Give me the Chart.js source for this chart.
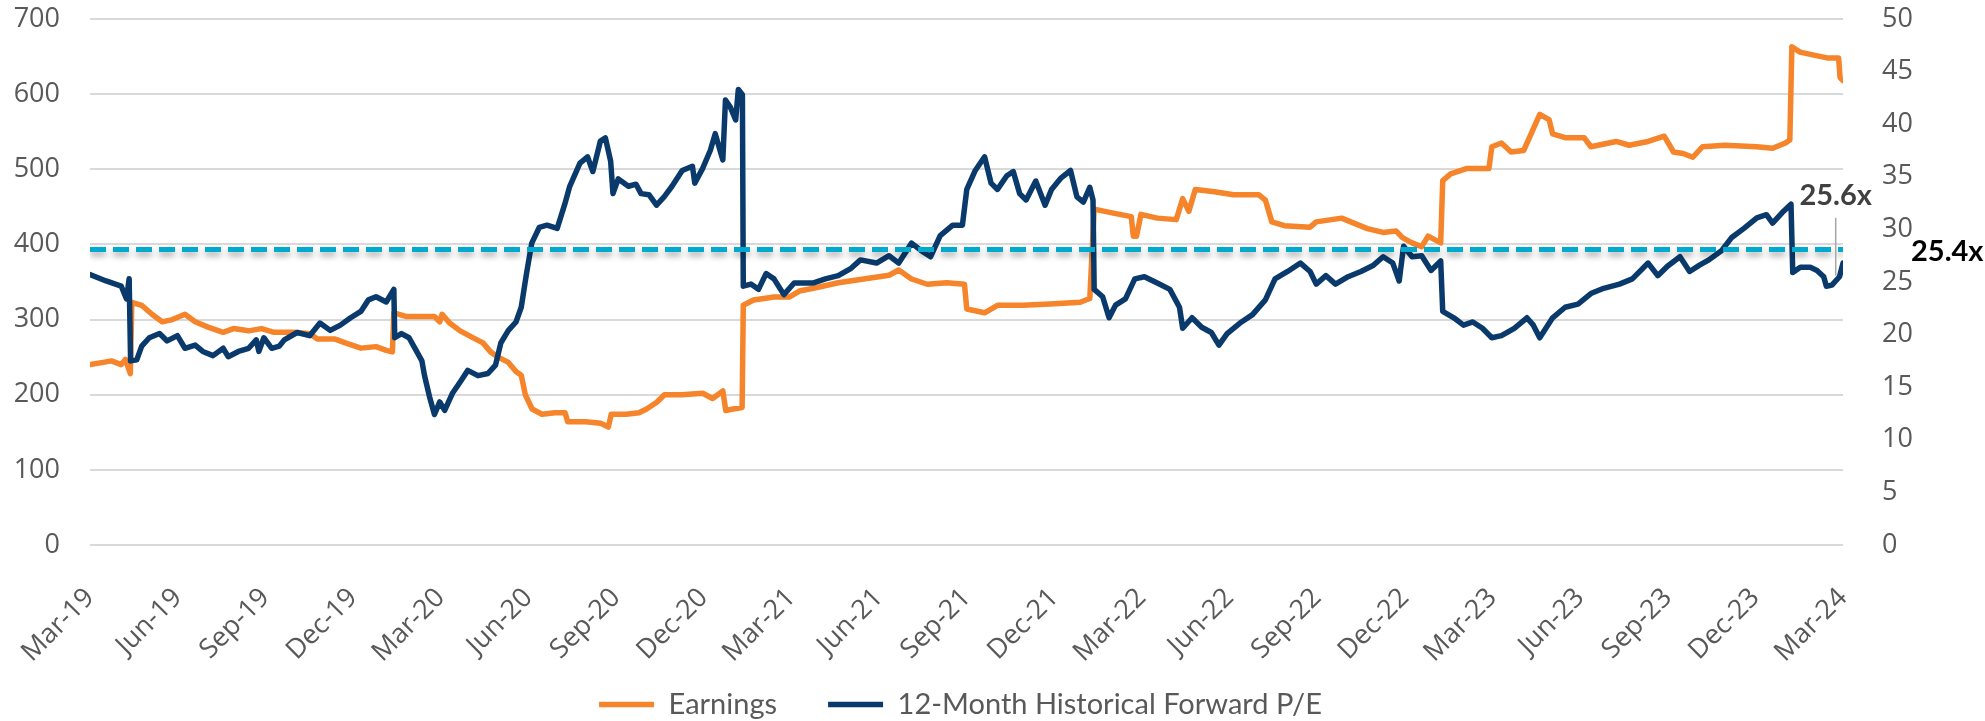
<!DOCTYPE html>
<html>
<head>
<meta charset="utf-8">
<script src="https://cdn.jsdelivr.net/npm/chart.js@4.4.1/dist/chart.umd.min.js"></script>
<style>
  html, body { margin: 0; padding: 0; background: #fff; }
  #wrap { width: 1985px; height: 721px; }
</style>
</head>
<body>
<div id="wrap"><canvas id="chart" width="1985" height="721"></canvas></div>
<script>
// x values are months since Mar-2019
const xTickLabels = ['Mar-19','Jun-19','Sep-19','Dec-19','Mar-20','Jun-20','Sep-20','Dec-20','Mar-21','Jun-21','Sep-21','Dec-21','Mar-22','Jun-22','Sep-22','Dec-22','Mar-23','Jun-23','Sep-23','Dec-23','Mar-24'];

const earnT = [0,0.46,0.73,1.07,1.21,1.38,1.43,1.77,2.12,2.47,2.82,3.25,3.6,4.04,4.56,4.91,5.43,5.87,6.3,7,7.52,7.78,8.39,8.74,9.27,9.79,10.14,10.35,10.4,10.84,11.36,11.79,11.97,12.05,12.32,12.67,13.1,13.45,13.71,13.97,14.32,14.58,14.76,14.9,15.13,15.47,15.91,16.26,16.35,16.96,17.48,17.74,17.84,18.35,18.79,19.05,19.4,19.66,20.27,20.97,21.31,21.66,21.76,22.01,22.32,22.36,22.71,23.41,23.93,24.28,24.8,25.61,26.48,27.35,27.68,28.12,28.66,29.32,29.93,30.01,30.62,31.06,31.93,33.02,33.89,34.22,34.37,34.98,35.64,35.71,35.82,35.97,36.53,37.18,37.4,37.61,37.83,38.49,39.14,40.01,40.23,40.45,40.88,41.76,41.97,42.84,43.28,43.72,44.26,44.7,44.92,45.25,45.58,45.8,46.23,46.3,46.57,47.11,47.88,47.98,48.31,48.64,49.07,49.29,49.62,49.94,50.06,50.49,51.14,51.37,52.24,52.68,53.33,53.88,54.2,54.53,54.86,55.19,55.96,57.05,57.59,58.03,58.18,58.25,58.53,59,59.5,59.85,59.9,60];
const earnings = [240,243,245,240,247,228,323,319,307,297,300,307,297,290,283,288,285,288,283,283,281,274,274,269,262,264,259,257,309,304,304,304,297,307,295,285,276,269,257,250,243,231,226,200,181,174,176,176,164,164,162,157,174,174,176,181,190,200,200,202,195,205,179,181,183,319,326,330,330,338,342,349,354,359,366,354,347,349,347,314,309,319,319,321,323,328,447,442,437,411,411,440,435,433,461,444,473,470,466,466,459,430,425,423,430,435,428,421,416,418,409,402,397,411,402,485,494,501,501,530,535,523,525,544,573,566,547,542,542,530,537,532,537,544,523,521,516,530,532,530,528,535,539,663,656,652,648,648,622,618];

const peT = [0,0.55,1.07,1.25,1.34,1.39,1.6,1.77,2.03,2.38,2.64,2.99,3.25,3.6,3.86,4.21,4.56,4.73,5.08,5.43,5.69,5.78,5.95,6.22,6.48,6.65,7.09,7.52,7.87,8.22,8.57,8.92,9.27,9.53,9.79,10.14,10.4,10.43,10.66,10.92,11.18,11.36,11.45,11.62,11.79,11.97,12.14,12.4,12.67,12.93,13.28,13.62,13.88,14.06,14.32,14.58,14.76,14.94,15.12,15.38,15.64,15.99,16.25,16.42,16.77,17.03,17.21,17.47,17.64,17.82,17.9,18.08,18.43,18.69,18.86,19.13,19.39,19.65,19.92,20.27,20.62,20.7,20.97,21.23,21.4,21.66,21.75,21.92,22.1,22.19,22.33,22.36,22.62,22.88,23.14,23.41,23.75,24.1,24.74,25.17,25.61,26.05,26.37,26.92,27.35,27.68,28.12,28.44,28.77,29.1,29.53,29.86,30.01,30.3,30.62,30.84,31.06,31.38,31.6,31.82,32.04,32.37,32.69,32.91,33.24,33.56,33.78,34,34.22,34.33,34.37,34.66,34.88,35.1,35.44,35.76,36.09,36.53,36.96,37.29,37.4,37.72,38.05,38.38,38.64,38.92,39.36,39.79,40.23,40.56,40.99,41.43,41.76,41.97,42.3,42.63,43.06,43.5,43.93,44.26,44.59,44.81,44.96,45.25,45.58,45.9,46.23,46.3,46.68,47.01,47.33,47.66,47.98,48.31,48.75,49.18,49.4,49.62,50.06,50.49,50.93,51.37,51.81,52.35,52.79,53.33,53.66,53.99,54.42,54.75,55.09,55.41,55.85,56.18,56.61,57.05,57.38,57.59,57.92,58.22,58.28,58.54,58.88,59.11,59.34,59.43,59.62,59.88,60];
const forwardPE = [25.7,25.1,24.6,23.4,25.3,17.5,17.6,18.9,19.7,20.1,19.4,19.9,18.7,19,18.4,18,18.7,17.9,18.4,18.7,19.5,18.4,19.7,18.7,18.9,19.5,20.2,19.9,21.1,20.4,20.9,21.6,22.2,23.3,23.6,23.1,24.3,19.7,20.1,19.7,18.4,17.5,16.1,14.1,12.4,13.6,12.8,14.4,15.5,16.6,16.1,16.3,17.1,19.2,20.4,21.2,22.6,25.8,28.7,30.2,30.4,30.1,32.4,34.1,36.3,36.9,35.5,38.4,38.7,36.5,33.4,34.8,34.1,34.3,33.4,33.3,32.3,33.1,34.1,35.6,36,34.4,35.8,37.5,39.1,36.6,42.3,41.6,40.4,43.3,42.8,24.6,24.8,24.3,25.8,25.3,23.8,24.9,24.9,25.3,25.6,26.3,27.1,26.8,27.5,26.8,28.7,28,27.4,29.4,30.4,30.4,33.8,35.6,36.9,34.4,33.8,35.1,35.5,33.4,32.8,34.6,32.3,33.8,34.9,35.6,33.1,32.6,34,32.8,24.3,23.6,21.6,22.8,23.4,25.3,25.5,24.9,24.3,22.6,20.6,21.6,20.7,20.2,19,20.1,21.1,21.9,23.3,25.3,26,26.8,26,24.8,25.6,24.8,25.5,26,26.6,27.4,26.8,25.1,28.4,27.4,27.5,26.1,27,22.2,21.6,20.9,21.2,20.6,19.7,19.9,20.6,21.6,20.9,19.7,21.6,22.6,22.9,23.9,24.4,24.8,25.3,26.8,25.6,26.5,27.4,26,26.6,27.1,28,29.2,30.1,31.1,31.4,30.6,31.6,32.4,25.9,26.4,26.4,26.1,25.5,24.6,24.7,25.5,26.8];

const avgPE = 28.1;
const avgLabel = '25.4x';
const currentLabel = '25.6x';
const calloutT = 59.75;
const calloutFrom = 25.6;
const calloutTo = 31.1;

const pts = (t, v) => t.map((x, i) => ({ x: x, y: v[i] }));

const dashShadow = {
  id: 'dashShadow',
  beforeDatasetDraw(chart, args) {
    if (args.index !== 0) return;
    const c = chart.ctx;
    c.save();
    c.shadowColor = 'rgba(0,0,0,0.35)';
    c.shadowBlur = 6;
    c.shadowOffsetY = 4;
  },
  afterDatasetDraw(chart, args) {
    if (args.index === 0) chart.ctx.restore();
  }
};

const annotate = {
  id: 'annotate',
  afterLayout(chart) {
    // put the legend where the original one sits
    const lg = chart.legend;
    const dy = 639 - lg.top;
    lg.top += dy; lg.bottom += dy;
    lg.left -= 32; lg.right -= 32;
  },
  afterDatasetsDraw(chart) {
    const { ctx, scales: { x, yR } } = chart;
    const lx = x.getPixelForValue(calloutT);
    ctx.save();
    ctx.strokeStyle = '#a6a6a6';
    ctx.lineWidth = 1.5;
    ctx.beginPath();
    ctx.moveTo(lx, yR.getPixelForValue(calloutFrom));
    ctx.lineTo(lx, yR.getPixelForValue(calloutTo));
    ctx.stroke();
    ctx.font = 'bold 29px Lato';
    ctx.textBaseline = 'middle';
    ctx.textAlign = 'center';
    ctx.fillStyle = '#404040';
    ctx.fillText(currentLabel, lx, yR.getPixelForValue(calloutTo) - 22);
    ctx.textAlign = 'left';
    ctx.fillStyle = '#000';
    ctx.fillText(avgLabel, chart.chartArea.right + 68, yR.getPixelForValue(avgPE) + 2);
    ctx.restore();
  }
};

const tickFont = { family: 'Open Sans', size: 27 };
const noPad = (s) => { s.paddingTop = 0; s.paddingBottom = 0; };

new Chart(document.getElementById('chart'), {
  type: 'line',
  data: {
    datasets: [
      { label: 'Average', data: [{ x: 0, y: avgPE }, { x: 60, y: avgPE }], yAxisID: 'yR',
        borderColor: '#00A9CE', borderWidth: 5, borderDash: [16, 7], pointRadius: 0 },
      { label: '12-Month Historical Forward P/E', data: pts(peT, forwardPE), yAxisID: 'yR',
        borderColor: '#0A3A6B', borderWidth: 5.5, pointRadius: 0, borderJoinStyle: 'round', borderCapStyle: 'round' },
      { label: 'Earnings', data: pts(earnT, earnings), yAxisID: 'y',
        borderColor: '#F5842A', borderWidth: 5.5, pointRadius: 0, borderJoinStyle: 'round', borderCapStyle: 'round' }
    ]
  },
  options: {
    responsive: false,
    animation: false,
    layout: { padding: { top: 19, bottom: -39, left: 0, right: 0 } },
    plugins: {
      tooltip: { enabled: false },
      legend: {
        position: 'bottom',
        labels: {
          filter: (item) => item.datasetIndex !== 0,
          sort: (a, b) => b.datasetIndex - a.datasetIndex,
          usePointStyle: true, pointStyle: 'line', pointStyleWidth: 55,
          padding: 51, color: '#595959',
          font: { family: 'Lato', size: 29 }
        }
      }
    },
    scales: {
      x: {
        type: 'linear', min: 0, max: 60,
        grid: { display: false }, border: { display: false },
        ticks: {
          stepSize: 3, autoSkip: false, maxRotation: 45, minRotation: 45, padding: 29,
          color: '#595959', font: tickFont,
          callback: (v) => xTickLabels[Math.round(v / 3)]
        },
        afterFit: (s) => { s.height = 125; s.paddingLeft = 0; s.paddingRight = 0; }
      },
      y: {
        position: 'left', min: 0, max: 700,
        grid: { color: '#d9d9d9', lineWidth: 2, drawTicks: false }, border: { display: false },
        ticks: { stepSize: 100, padding: 30, color: '#595959', font: tickFont },
        afterFit: (s) => { s.width = 90; noPad(s); }
      },
      yR: {
        position: 'right', min: 0, max: 50,
        grid: { display: false }, border: { display: false },
        ticks: { stepSize: 5, padding: 31, color: '#595959', font: tickFont },
        afterFit: (s) => { s.width = 142; noPad(s); }
      }
    }
  },
  plugins: [dashShadow, annotate]
});
</script>
</body>
</html>
